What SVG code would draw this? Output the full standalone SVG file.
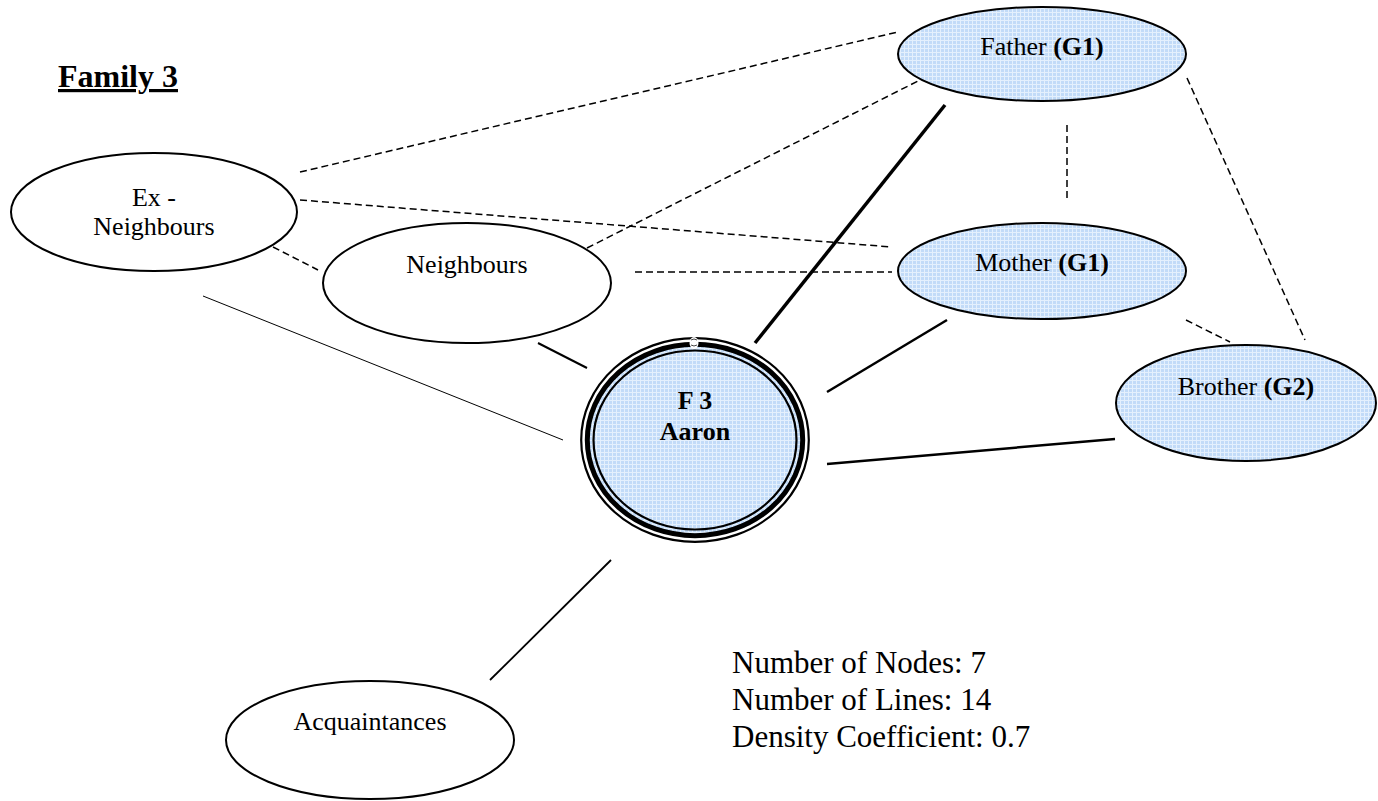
<svg xmlns="http://www.w3.org/2000/svg" width="1378" height="801" viewBox="0 0 1378 801">
  <defs>
    <!-- fine woven texture used for the family-member nodes -->
    <pattern id="weave" width="4" height="4" patternUnits="userSpaceOnUse">
      <rect width="4" height="4" fill="#c2dbf8"/>
      <rect x="0" y="0" width="4" height="1" fill="#e4f0fd"/>
      <rect x="0" y="0" width="1" height="4" fill="#e4f0fd"/>
    </pattern>
    <style>
      .node { stroke: #000; stroke-width: 2; }
      .plain { fill: #fff; }
      .kin { fill: url(#weave); }
      .lbl { font-family: "Liberation Serif", "Times New Roman", serif; font-size: 26px; fill: #000; text-anchor: middle; }
      .b { font-weight: bold; }
      .dash { stroke: #000; stroke-width: 1.5; stroke-dasharray: 7 4; fill: none; }
      .solid { stroke: #000; fill: none; }
      .info { font-family: "Liberation Serif", "Times New Roman", serif; font-size: 31px; fill: #000; }
    </style>
  </defs>

  <rect width="1378" height="801" fill="#fff"/>

  <!-- heading -->
  <text x="58" y="87" font-family="Liberation Serif, Times New Roman, serif" font-size="32" font-weight="bold" text-decoration="underline">Family 3</text>

  <!-- ties -->
  <g id="connectors">
    <line class="dash" x1="300" y1="172" x2="898" y2="32"/>
    <line class="dash" x1="587" y1="248" x2="920" y2="80"/>
    <line class="dash" x1="300" y1="200" x2="892" y2="247"/>
    <line class="dash" x1="273" y1="247" x2="318" y2="270"/>
    <line class="dash" x1="635" y1="272" x2="892" y2="272"/>
    <line class="dash" x1="1067" y1="125" x2="1067" y2="200"/>
    <line class="dash" x1="1187" y1="78" x2="1305" y2="340"/>
    <line class="dash" x1="1186" y1="320" x2="1230" y2="342"/>
    <line class="solid" stroke-width="3.5" x1="755" y1="343" x2="945" y2="105"/>
    <line class="solid" stroke-width="2.5" x1="827" y1="392" x2="947" y2="320"/>
    <line class="solid" stroke-width="2.5" x1="827" y1="464" x2="1115" y2="439"/>
    <line class="solid" stroke-width="2" x1="538" y1="343" x2="587" y2="368"/>
    <line class="solid" stroke-width="1" x1="203" y1="296" x2="563" y2="440"/>
    <line class="solid" stroke-width="1.8" x1="490" y1="680" x2="611" y2="560"/>
  </g>

  <g id="father">
    <ellipse class="node kin" cx="1042" cy="54" rx="144" ry="47"/>
    <text class="lbl" x="1042" y="55">Father <tspan class="b">(G1)</tspan></text>
  </g>

  <g id="mother">
    <ellipse class="node kin" cx="1042" cy="271" rx="144" ry="48"/>
    <text class="lbl" x="1042" y="271">Mother <tspan class="b">(G1)</tspan></text>
  </g>

  <g id="brother">
    <ellipse class="node kin" cx="1246" cy="403" rx="130" ry="58"/>
    <text class="lbl" x="1246" y="395">Brother <tspan class="b">(G2)</tspan></text>
  </g>

  <g id="ex-neighbours">
    <ellipse class="node plain" cx="154" cy="212" rx="143" ry="59"/>
    <text class="lbl" x="154" y="206">Ex -</text>
    <text class="lbl" x="154" y="235">Neighbours</text>
  </g>

  <g id="neighbours">
    <ellipse class="node plain" cx="467" cy="283" rx="144" ry="60"/>
    <text class="lbl" x="467" y="273">Neighbours</text>
  </g>

  <g id="acquaintances">
    <ellipse class="node plain" cx="370" cy="740" rx="144" ry="59"/>
    <text class="lbl" x="370" y="730">Acquaintances</text>
  </g>

  <!-- ego node: triple outline -->
  <g id="aaron">
    <ellipse cx="695" cy="440" rx="113.8" ry="101.8" fill="#fff" stroke="#000" stroke-width="2.2"/>
    <ellipse cx="695" cy="440" rx="107.7" ry="95.7" fill="url(#weave)" stroke="#000" stroke-width="5"/>
    <ellipse cx="695" cy="440" rx="101.5" ry="89.5" fill="none" stroke="#000" stroke-width="2.2"/>
    <!-- small break in the rings where the outline starts -->
    <ellipse cx="694" cy="343" rx="4.5" ry="6" fill="#fff"/>
    <path d="M691 340 q3 -2 6 0 M691 345 q3 2 6 0" fill="none" stroke="#333" stroke-width="0.9"/>
    <text class="lbl b" x="695" y="409">F 3</text>
    <text class="lbl b" x="695" y="440">Aaron</text>
  </g>

  <!-- network statistics -->
  <g id="stats">
    <text class="info" x="732" y="673">Number of Nodes: 7</text>
    <text class="info" x="732" y="710">Number of Lines: 14</text>
    <text class="info" x="732" y="747">Density Coefficient: 0.7</text>
  </g>
</svg>
